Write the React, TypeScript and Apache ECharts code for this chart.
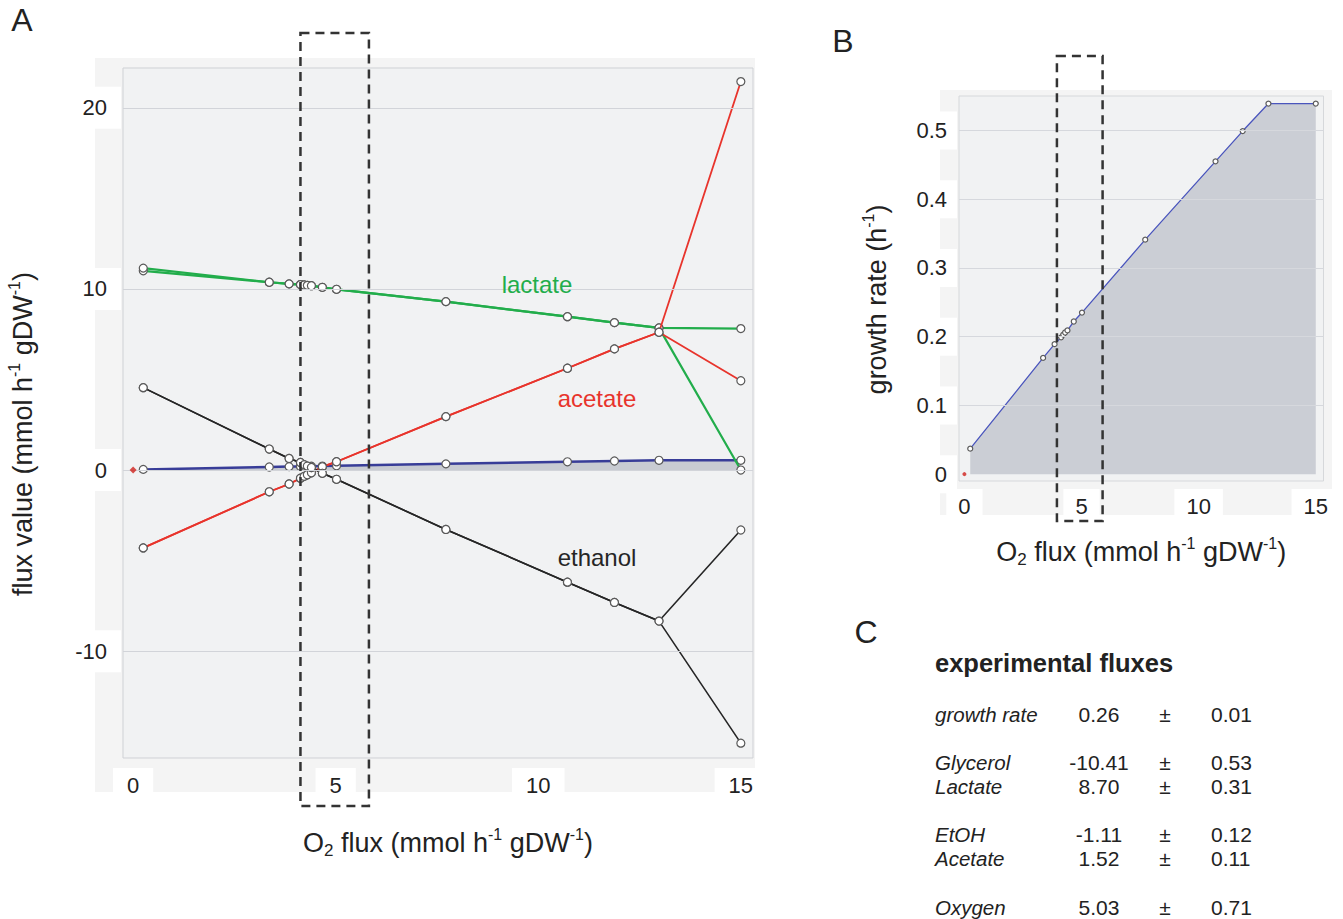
import React, { useEffect, useRef } from "react";
import * as echarts from "echarts";

// ---------- data ----------
const o2Flux = [0.25, 3.36, 3.85, 4.13, 4.22, 4.3, 4.4, 4.67, 5.02, 7.72, 10.72, 11.88, 12.98, 15.0];
const growthRate = [0.037, 0.169, 0.189, 0.199, 0.203, 0.206, 0.209, 0.222, 0.235, 0.341, 0.455, 0.499, 0.539, 0.539];
const lactateUpper = [11.15, 10.37, 10.28, 10.24, 10.22, 10.2, 10.18, 10.09, 9.98, 9.3, 8.47, 8.14, 7.85, 7.81];
const lactateLower = [11.0, 10.37, 10.28, 10.24, 10.22, 10.2, 10.18, 10.09, 9.98, 9.3, 8.47, 8.14, 7.85, 0.0];
const acetateUpper = [-4.3, -1.2, -0.77, -0.45, -0.35, -0.26, -0.15, 0.18, 0.46, 2.95, 5.62, 6.69, 7.61, 21.45];
const acetateLower = [-4.3, -1.2, -0.77, -0.45, -0.35, -0.26, -0.15, 0.18, 0.46, 2.95, 5.62, 6.69, 7.61, 4.93];
const ethanolUpper = [4.55, 1.16, 0.64, 0.42, 0.3, 0.22, 0.14, -0.18, -0.51, -3.28, -6.19, -7.31, -8.34, -3.31];
const ethanolLower = [4.55, 1.16, 0.64, 0.42, 0.3, 0.22, 0.14, -0.18, -0.51, -3.28, -6.19, -7.31, -8.34, -15.08];
const originPoint = [0, 0];

const xLabelsA = [0, 5, 10, 15];
const xTicksA = [0, 1, 2, 3, 4, 5, 6, 7, 8, 9, 10, 11, 12, 13, 14, 15];
const yLabelsA = [-10, 0, 10, 20];
const yTicksA = [-15, -10, -5, 0, 5, 10, 15, 20];
const xLabelsB = [0, 5, 10, 15];
const xTicksB = [0, 1, 2, 3, 4, 5, 6, 7, 8, 9, 10, 11, 12, 13, 14, 15];
const yLabelsB = [0, 0.1, 0.2, 0.3, 0.4, 0.5];
const yTicksB = [0, 0.05, 0.1, 0.15, 0.2, 0.25, 0.3, 0.35, 0.4, 0.45, 0.5];

const boxRangeA = [4.13, 5.82];
const boxRangeB = [3.95, 5.9];

const tableTitle = "experimental fluxes";
const tableNames = ["growth rate", "Glycerol", "Lactate", "EtOH", "Acetate", "Oxygen"];
const tableValues = ["0.26", "-10.41", "8.70", "-1.11", "1.52", "5.03"];
const tableErrors = ["0.01", "0.53", "0.31", "0.12", "0.11", "0.71"];

// ---------- styling ----------
const FONT = "'Liberation Sans', Arial, Helvetica, sans-serif";
const GREEN = "#22ad4b";
const RED = "#e8342c";
const BLACK = "#262626";
const BLUE_A = "#383d98";
const BLUE_B = "#4a55bd";
const TXT = "#222";

const pts = (ys: number[]) => o2Flux.map((x, i) => [x, ys[i]]);

const nameRich = (size: number) => ({
  t: { fontSize: size, color: TXT, fontFamily: FONT, lineHeight: size + 6 },
  s: { fontSize: Math.round(size * 0.58), color: TXT, fontFamily: FONT, verticalAlign: "top", lineHeight: size + 6 },
  b: { fontSize: Math.round(size * 0.62), color: TXT, fontFamily: FONT, verticalAlign: "bottom", lineHeight: size + 6 },
});

function lineSeries(name: string, ys: number[], color: string, width: number, idx: number, size: number, extra: any = {}) {
  return {
    name,
    type: "line",
    xAxisIndex: idx,
    yAxisIndex: idx,
    data: pts(ys),
    symbol: "circle",
    symbolSize: size,
    showSymbol: true,
    lineStyle: { color, width },
    itemStyle: { color: "#fff", borderColor: "#5a5a5a", borderWidth: 1.2 },
    emphasis: { disabled: true },
    ...extra,
  };
}

export default function App() {
  const ref = useRef<HTMLDivElement>(null);
  useEffect(() => {
    if (!ref.current) return;
    const chart = echarts.init(ref.current, undefined, { renderer: "svg" });
    const labelCommon = { color: TXT, fontSize: 22, fontFamily: FONT, backgroundColor: "#fff" };
    const option: any = {
      animation: false,
      backgroundColor: "#fff",
      grid: [
        { left: 123, top: 68, width: 630, height: 690, show: true, backgroundColor: "#f1f2f3", borderColor: "#cfd1d5", borderWidth: 1, z: 1 },
        { left: 959, top: 96, width: 365, height: 385, show: true, backgroundColor: "#f1f2f3", borderColor: "#d6d8db", borderWidth: 1, z: 1 },
      ],
      xAxis: [
        {
          gridIndex: 0, type: "value", min: -0.25, max: 15.3,
          name: "{t|O}{b|2}{t| flux (mmol h}{s|-1}{t| gDW}{s|-1}{t|)}",
          nameLocation: "middle", nameGap: 68, nameTextStyle: { rich: nameRich(27), padding: [0, 0, 0, 20] },
          axisLine: { show: false },
          axisTick: { show: true, customValues: xTicksA, length: 3, inside: false, lineStyle: { color: "#999" } },
          axisLabel: { ...labelCommon, customValues: xLabelsA, margin: 10, padding: [6, 14, 8, 14] },
          splitLine: { show: false },
        },
        {
          gridIndex: 1, type: "value", min: -0.23, max: 15.33,
          name: "{t|O}{b|2}{t| flux (mmol h}{s|-1}{t| gDW}{s|-1}{t|)}",
          nameLocation: "middle", nameGap: 54, nameTextStyle: { rich: nameRich(27) },
          axisLine: { show: false },
          axisTick: { show: true, customValues: xTicksB, length: 3, lineStyle: { color: "#aaa" } },
          axisLabel: { ...labelCommon, customValues: xLabelsB, margin: 8, padding: [6, 12, 8, 12] },
          splitLine: { show: false },
        },
      ],
      yAxis: [
        {
          gridIndex: 0, type: "value", min: -15.9, max: 22.2,
          name: "{t|flux value (mmol h}{s|-1}{t| gDW}{s|-1}{t|)}",
          nameLocation: "middle", nameGap: 84, nameTextStyle: { rich: nameRich(27), padding: [0, 42, 0, 0] },
          axisLine: { show: false },
          axisTick: { show: true, customValues: yTicksA, length: 4, lineStyle: { color: "#999" } },
          axisLabel: { ...labelCommon, customValues: yLabelsA, margin: 2, padding: [10, 14, 10, 26] },
          splitLine: { show: false },
        },
        {
          gridIndex: 1, type: "value", min: -0.01, max: 0.55,
          name: "{t|growth rate (h}{s|-1}{t|)}",
          nameLocation: "middle", nameGap: 66, nameTextStyle: { rich: nameRich(27), padding: [0, 22, 0, 0] },
          axisLine: { show: false },
          axisTick: { show: true, customValues: yTicksB, length: 3, lineStyle: { color: "#aaa" } },
          axisLabel: { ...labelCommon, customValues: yLabelsB, margin: 2, padding: [8, 10, 8, 14], formatter: (v: number) => (v === 0 ? "0" : String(v)) },
          splitLine: { show: false },
        },
      ],
      series: [
        lineSeries("growthA", growthRate, BLUE_A, 2.5, 0, 8, {
          areaStyle: { color: "#c8cbd2", opacity: 1 },
          z: 2,
          markLine: {
            silent: true, symbol: "none", label: { show: false },
            lineStyle: { color: "#d2d4d9", width: 1, type: "solid" },
            data: yLabelsA.map((v) => ({ yAxis: v })),
          },
        }),
        lineSeries("lactateLower", lactateLower, GREEN, 2.2, 0, 8, { z: 3 }),
        lineSeries("lactateUpper", lactateUpper, GREEN, 2.2, 0, 8, { z: 3 }),
        lineSeries("acetateLower", acetateLower, RED, 1.8, 0, 8, { z: 4 }),
        lineSeries("acetateUpper", acetateUpper, RED, 1.8, 0, 8, { z: 4 }),
        lineSeries("ethanolLower", ethanolLower, BLACK, 1.6, 0, 8, { z: 4 }),
        lineSeries("ethanolUpper", ethanolUpper, BLACK, 1.6, 0, 8, { z: 4 }),
        {
          type: "scatter", xAxisIndex: 0, yAxisIndex: 0, data: [originPoint],
          symbol: "diamond", symbolSize: 7, itemStyle: { color: "#d0201c" }, z: 5,
        },
        lineSeries("growthB", growthRate, BLUE_B, 1.3, 1, 5, {
          areaStyle: { color: "#cbced5", opacity: 1 },
          z: 2,
          markLine: {
            silent: true, symbol: "none", label: { show: false },
            lineStyle: { color: "#d6d8dd", width: 1, type: "solid" },
            data: yLabelsB.filter((v) => v > 0).map((v) => ({ yAxis: v })),
          },
        }),
        {
          type: "scatter", xAxisIndex: 1, yAxisIndex: 1, data: [originPoint],
          symbol: "circle", symbolSize: 4, itemStyle: { color: "#d0201c" }, z: 5,
        },
      ],
    };
    chart.setOption(option);

    const pA0 = chart.convertToPixel({ gridIndex: 0 }, [boxRangeA[0], 0]) as number[];
    const pA1 = chart.convertToPixel({ gridIndex: 0 }, [boxRangeA[1], 0]) as number[];
    const pB0 = chart.convertToPixel({ gridIndex: 1 }, [boxRangeB[0], 0]) as number[];
    const pB1 = chart.convertToPixel({ gridIndex: 1 }, [boxRangeB[1], 0]) as number[];

    const dash = { fill: "none", stroke: "#333", lineWidth: 2.5, lineDash: [9, 6] };
    const text = (t: string, x: number, y: number, size: number, fill: string, extra: any = {}) => ({
      type: "text", x, y, z: 50,
      style: { text: t, fill, fontSize: size, fontFamily: FONT, textAlign: "center", textVerticalAlign: "middle", ...extra },
    });
    const rowY = [714, 762, 786, 834, 858, 907];
    const graphic: any[] = [
      { type: "rect", z: -10, shape: { x: 95, y: 58, width: 660, height: 734 }, style: { fill: "#f4f4f4" } },
      { type: "rect", z: -10, shape: { x: 940, y: 90, width: 392, height: 425 }, style: { fill: "#f4f4f4" } },
      { type: "rect", z: 60, shape: { x: pA0[0], y: 33, width: pA1[0] - pA0[0], height: 773 }, style: dash },
      { type: "rect", z: 60, shape: { x: pB0[0], y: 56, width: pB1[0] - pB0[0], height: 465 }, style: dash },
      text("A", 22, 20, 32, TXT),
      text("B", 843, 41, 32, TXT),
      text("C", 866, 632, 32, TXT),
      text("lactate", 537, 284, 24, GREEN),
      text("acetate", 597, 398, 24, RED),
      text("ethanol", 597, 557, 24, BLACK),
      text(tableTitle, 935, 663, 25.5, TXT, { textAlign: "left", fontWeight: "bold" }),
    ];
    tableNames.forEach((n, i) => {
      graphic.push(text(n, 935, rowY[i], 20.5, TXT, { textAlign: "left", fontStyle: "italic" }));
      graphic.push(text(tableValues[i], 1099, rowY[i], 21, TXT));
      graphic.push(text("±", 1165, rowY[i], 21, TXT));
      graphic.push(text(tableErrors[i], 1211, rowY[i], 21, TXT, { textAlign: "left" }));
    });
    chart.setOption({ graphic });

    return () => chart.dispose();
  }, []);
  return <div ref={ref} style={{ position: "absolute", left: 0, top: 0, width: 1343, height: 919 }} />;
}
